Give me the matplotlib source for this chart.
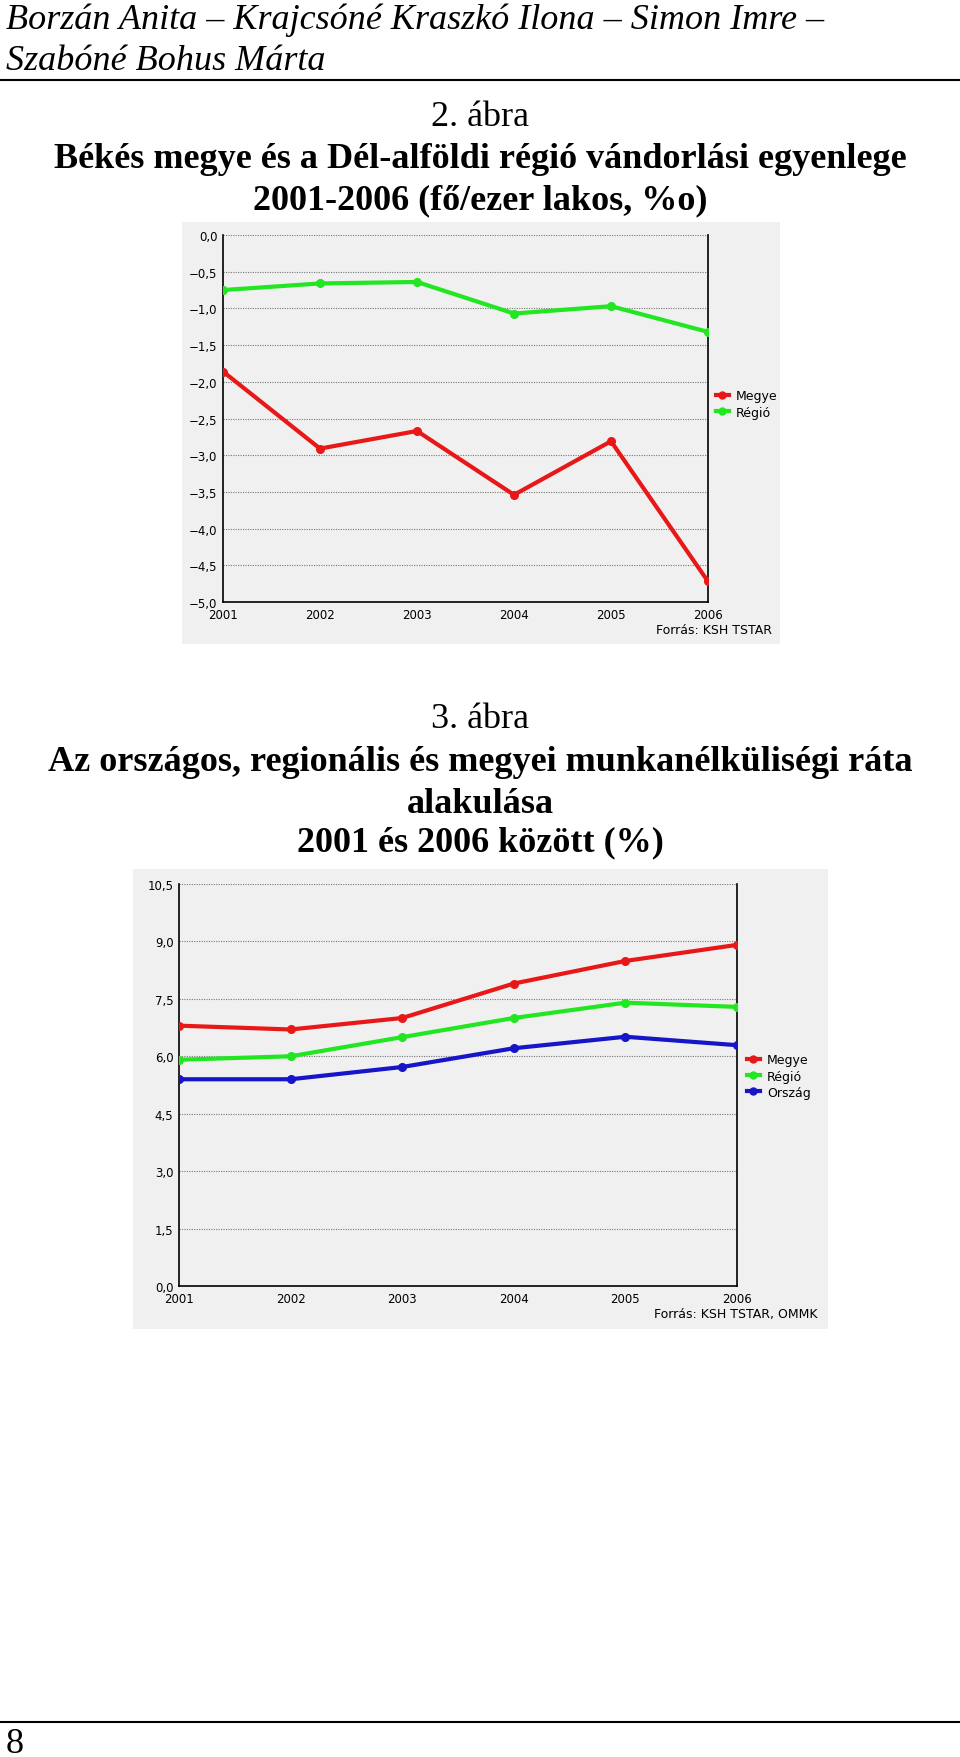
import matplotlib.pyplot as plt
from matplotlib.patches import Rectangle
from matplotlib.lines import Line2D

W, H = 960, 1758

years = [2001, 2002, 2003, 2004, 2005, 2006]

# 2. ábra: vándorlási egyenleg (fő/ezer lakos)
migr_megye = [-1.86, -2.91, -2.67, -3.54, -2.81, -4.72]
migr_regio = [-0.75, -0.66, -0.64, -1.07, -0.97, -1.32]
migr_ticks = [0.0, -0.5, -1.0, -1.5, -2.0, -2.5, -3.0, -3.5, -4.0, -4.5, -5.0]

# 3. ábra: munkanélküliségi ráta (%)
unemp_megye = [6.80, 6.70, 7.00, 7.90, 8.49, 8.91]
unemp_regio = [5.91, 6.00, 6.50, 7.00, 7.40, 7.29]
unemp_orszag = [5.40, 5.40, 5.72, 6.21, 6.51, 6.29]
unemp_ticks = [0.0, 1.5, 3.0, 4.5, 6.0, 7.5, 9.0, 10.5]

RED = "#e81818"
GREEN = "#22e622"
BLUE = "#1616c8"
PANEL = "#f0f0f0"


def fx(px):
    return px / W


def fy(py):
    return 1 - py / H


def axes_px(fig, left, top, right, bottom):
    return fig.add_axes([fx(left), fy(bottom), (right - left) / W, (bottom - top) / H])


def comma(v):
    return f"{v:.1f}".replace(".", ",").replace("-", "\u2212")


def line_chart(fig, box, plot, series, ticks, ylim, legend_xy, source, source_xy):
    pl, pt, pr, pb = box
    fig.add_artist(Rectangle((fx(pl), fy(pb)), (pr - pl) / W, (pb - pt) / H,
                             transform=fig.transFigure, facecolor=PANEL,
                             edgecolor="none", zorder=-5))
    ax = axes_px(fig, *plot)
    ax.set_zorder(2)
    ax.set_facecolor(PANEL)
    for vals, color, label in series:
        ax.plot(years, vals, color=color, lw=3, marker="o", ms=5.5,
                solid_joinstyle="round", label=label, zorder=3)
    ax.set_xlim(years[0], years[-1])
    ax.set_ylim(*ylim)
    ax.set_yticks(ticks)
    ax.set_yticklabels([comma(t) for t in ticks], fontsize=8.5, family="DejaVu Sans")
    ax.set_xticks(years)
    ax.set_xticklabels([str(y) for y in years], fontsize=8.5, family="DejaVu Sans")
    ax.tick_params(axis="y", length=0, pad=4)
    ax.tick_params(axis="x", length=0, pad=4)
    ax.grid(True, axis="y", color="#777777", lw=0.8, ls=(0, (1, 1.2)))
    ax.spines["top"].set_visible(False)
    for s in ("left", "bottom", "right"):
        ax.spines[s].set_color("black")
        ax.spines[s].set_linewidth(1.2)
    handles = [Line2D([], [], color=c, lw=3, marker="o", ms=5) for _, c, _ in series]
    fig.legend(handles, [lab for _, _, lab in series], loc="center left",
               bbox_to_anchor=(fx(legend_xy[0]), fy(legend_xy[1])),
               bbox_transform=fig.transFigure, frameon=False, fontsize=9,
               handlelength=1.0, handletextpad=0.6, labelspacing=0.25,
               borderpad=0, borderaxespad=0)
    fig.text(fx(source_xy[0]), fy(source_xy[1]), source, ha="right", va="center",
             fontsize=9, family="DejaVu Sans")
    return ax


fig = plt.figure(figsize=(W / 100, H / 100), dpi=100)

serif = "Liberation Serif"
TS = 26
fig.text(fx(6), fy(20), "Borzán Anita – Krajcsóné Kraszkó Ilona – Simon Imre –",
         family=serif, style="italic", fontsize=TS, ha="left", va="center")
fig.text(fx(6), fy(62), "Szabóné Bohus Márta",
         family=serif, style="italic", fontsize=TS, ha="left", va="center")
fig.add_artist(Line2D([0, 1], [fy(81), fy(81)], color="black", lw=1.5,
                      transform=fig.transFigure))

fig.text(0.5, fy(117), "2. ábra", family=serif, fontsize=TS, ha="center", va="center")
fig.text(0.5, fy(160), "Békés megye és a Dél-alföldi régió vándorlási egyenlege",
         family=serif, weight="bold", fontsize=TS, ha="center", va="center")
fig.text(0.5, fy(201), "2001-2006 (fő/ezer lakos, %o)",
         family=serif, weight="bold", fontsize=TS, ha="center", va="center")

line_chart(fig, (182, 223, 780, 645), (223, 236, 708, 603),
           [(migr_megye, RED, "Megye"), (migr_regio, GREEN, "Régió")],
           migr_ticks, (-5, 0), (716, 405), "Forrás: KSH TSTAR", (772, 631))

fig.text(0.5, fy(719), "3. ábra", family=serif, fontsize=TS, ha="center", va="center")
fig.text(0.5, fy(763), "Az országos, regionális és megyei munkanélküliségi ráta",
         family=serif, weight="bold", fontsize=TS, ha="center", va="center")
fig.text(0.5, fy(805), "alakulása",
         family=serif, weight="bold", fontsize=TS, ha="center", va="center")
fig.text(0.5, fy(843), "2001 és 2006 között (%)",
         family=serif, weight="bold", fontsize=TS, ha="center", va="center")

line_chart(fig, (133, 870, 828, 1330), (179, 885, 737, 1287),
           [(unemp_megye, RED, "Megye"), (unemp_regio, GREEN, "Régió"),
            (unemp_orszag, BLUE, "Ország")],
           unemp_ticks, (0, 10.5), (747, 1077), "Forrás: KSH TSTAR, OMMK", (817, 1315))

fig.add_artist(Line2D([0, 1], [fy(1723), fy(1723)], color="black", lw=1.5,
                      transform=fig.transFigure))
fig.text(fx(6), fy(1745), "8", family=serif, fontsize=TS, ha="left", va="center")

fig.savefig("out.png", dpi=100)
